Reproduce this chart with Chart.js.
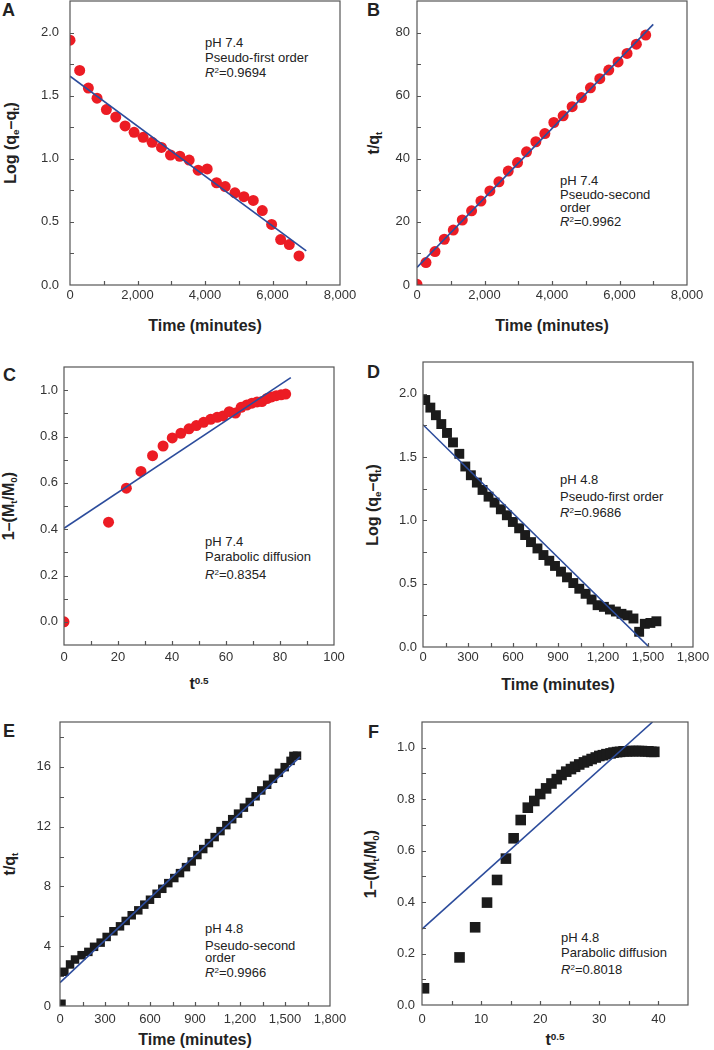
<!DOCTYPE html>
<html>
<head>
<meta charset="utf-8">
<script src="https://cdn.jsdelivr.net/npm/chart.js@4.4.0/dist/chart.umd.min.js"></script>
<style>
body { margin: 0; background: #fff; }
#page { position: relative; width: 714px; height: 1050px; overflow: hidden; font-family: "Liberation Sans", Arial, sans-serif; color: #222; }
canvas { position: absolute; }
.lt { position: absolute; font-weight: bold; font-size: 18px; transform: translateY(-50%); line-height: 1; }
.xt { position: absolute; font-weight: bold; font-size: 16px; white-space: nowrap; transform: translate(-50%, -50%); line-height: 1; }
.yt { position: absolute; font-weight: bold; font-size: 16px; white-space: nowrap; transform: translate(-50%, -50%) rotate(-90deg); line-height: 1; }
.an { position: absolute; font-size: 13px; white-space: nowrap; transform: translateY(-50%); line-height: 1; }
.sb { font-size: 0.62em; position: relative; top: 0.35em; }
.sp { font-size: 0.62em; position: relative; top: -0.5em; }
</style>
</head>
<body>
<div id="page">
  <div class="lt" style="left:2px;top:10px">A</div>
  <div class="lt" style="left:367px;top:10px">B</div>
  <div class="lt" style="left:3px;top:375px">C</div>
  <div class="lt" style="left:367px;top:372px">D</div>
  <div class="lt" style="left:3px;top:731px">E</div>
  <div class="lt" style="left:368px;top:732px">F</div>

  <div class="xt" style="left:205px;top:326px">Time (minutes)</div>
  <div class="xt" style="left:552px;top:326px">Time (minutes)</div>
  <div class="xt" style="left:199px;top:684px">t<span class="sp">0.5</span></div>
  <div class="xt" style="left:558px;top:685px">Time (minutes)</div>
  <div class="xt" style="left:195px;top:1040px">Time (minutes)</div>
  <div class="xt" style="left:555px;top:1040px">t<span class="sp">0.5</span></div>

  <div class="yt" style="left:11px;top:143px">Log (q<span class="sb">e</span>–q<span class="sb">t</span>)</div>
  <div class="yt" style="left:374px;top:143px">t/q<span class="sb">t</span></div>
  <div class="yt" style="left:9px;top:506px">1–(M<span class="sb">t</span>/M<span class="sb">0</span>)</div>
  <div class="yt" style="left:373px;top:505px">Log (q<span class="sb">e</span>–q<span class="sb">t</span>)</div>
  <div class="yt" style="left:10px;top:864px">t/q<span class="sb">t</span></div>
  <div class="yt" style="left:371px;top:864px">1–(M<span class="sb">t</span>/M<span class="sb">0</span>)</div>

  <div class="an" style="left:205px;top:42px">pH 7.4</div>
  <div class="an" style="left:205px;top:57px">Pseudo-first order</div>
  <div class="an" style="left:205px;top:73px"><i>R</i><span class="sp">2</span>=0.9694</div>

  <div class="an" style="left:560px;top:180px">pH 7.4</div>
  <div class="an" style="left:560px;top:194px">Pseudo-second</div>
  <div class="an" style="left:560px;top:207px">order</div>
  <div class="an" style="left:560px;top:222px"><i>R</i><span class="sp">2</span>=0.9962</div>

  <div class="an" style="left:205px;top:541px">pH 7.4</div>
  <div class="an" style="left:205px;top:556px">Parabolic diffusion</div>
  <div class="an" style="left:205px;top:575px"><i>R</i><span class="sp">2</span>=0.8354</div>

  <div class="an" style="left:560px;top:479px">pH 4.8</div>
  <div class="an" style="left:560px;top:496px">Pseudo-first order</div>
  <div class="an" style="left:560px;top:513px"><i>R</i><span class="sp">2</span>=0.9686</div>

  <div class="an" style="left:205px;top:928px">pH 4.8</div>
  <div class="an" style="left:205px;top:945px">Pseudo-second</div>
  <div class="an" style="left:205px;top:957px">order</div>
  <div class="an" style="left:205px;top:973px"><i>R</i><span class="sp">2</span>=0.9966</div>

  <div class="an" style="left:561px;top:937px">pH 4.8</div>
  <div class="an" style="left:561px;top:952px">Parabolic diffusion</div>
  <div class="an" style="left:561px;top:970px"><i>R</i><span class="sp">2</span>=0.8018</div>
</div>

<script>
// A: pH 7.4, pseudo-first order
const timeA = [0, 287, 544, 801, 1078, 1355, 1632, 1899, 2166, 2433, 2710, 2977, 3254, 3531, 3798, 4065, 4342, 4599, 4886, 5153, 5430, 5697, 5974, 6241, 6498, 6785];
const logA = [1.94, 1.70, 1.56, 1.48, 1.39, 1.33, 1.26, 1.21, 1.17, 1.13, 1.09, 1.03, 1.02, 0.99, 0.91, 0.92, 0.81, 0.78, 0.73, 0.70, 0.67, 0.59, 0.48, 0.36, 0.32, 0.23];
const fitA = [[0, 1.654], [7000, 0.271]];

// B: pH 7.4, pseudo-second order
const timeB = [0, 266, 533, 809, 1075, 1342, 1618, 1894, 2160, 2427, 2703, 2979, 3245, 3522, 3788, 4054, 4330, 4597, 4873, 5139, 5416, 5682, 5958, 6224, 6500, 6777];
const tqB = [0.2, 7.1, 10.6, 14.5, 17.4, 20.6, 23.5, 26.6, 29.8, 32.7, 36.1, 38.8, 42.2, 45.4, 48.0, 51.5, 53.6, 56.5, 59.4, 62.5, 65.4, 68.1, 70.7, 73.4, 76.3, 79.2];
const fitB = [[0, 5.6], [7000, 82.6]];

// C: pH 7.4, parabolic diffusion
const sqrtC = [0, 16.5, 23.1, 28.5, 32.8, 36.7, 40.1, 43.3, 46.3, 49.0, 51.7, 54.3, 56.7, 58.9, 61.2, 63.5, 65.6, 67.7, 69.6, 71.5, 73.3, 75.2, 76.9, 78.6, 80.4, 82.1];
const fracC = [0.00, 0.43, 0.577, 0.649, 0.717, 0.759, 0.794, 0.814, 0.833, 0.847, 0.861, 0.874, 0.883, 0.889, 0.907, 0.901, 0.926, 0.936, 0.944, 0.949, 0.951, 0.964, 0.971, 0.976, 0.980, 0.983];
const fitC = [[0, 0.404], [84, 1.054]];

// D: pH 4.8, pseudo-first order
const timeD = [15, 49, 86, 122, 160, 200, 242, 282, 319, 359, 397, 437, 477, 519, 559, 599, 641, 681, 720, 763, 803, 842, 880, 920, 960, 1002, 1042, 1084, 1124, 1164, 1206, 1246, 1286, 1323, 1363, 1403, 1441, 1479, 1516, 1556];
const logD = [1.95, 1.89, 1.83, 1.76, 1.69, 1.615, 1.525, 1.425, 1.356, 1.298, 1.24, 1.187, 1.14, 1.087, 1.04, 0.987, 0.937, 0.884, 0.828, 0.778, 0.726, 0.681, 0.64, 0.595, 0.55, 0.505, 0.46, 0.42, 0.375, 0.33, 0.317, 0.296, 0.28, 0.262, 0.25, 0.225, 0.12, 0.183, 0.19, 0.203];
const fitD = [[0, 1.755], [1507, 0]];

// E: pH 4.8, pseudo-second order
const timeE = [10, 29, 67, 100, 144, 189, 227, 271, 311, 356, 400, 438, 478, 522, 562, 600, 644, 682, 722, 762, 800, 840, 878, 916, 955, 993, 1031, 1070, 1109, 1148, 1187, 1226, 1265, 1304, 1342, 1381, 1420, 1459, 1498, 1537, 1556, 1580];
const tqE = [0.15, 2.29, 2.78, 3.11, 3.40, 3.62, 3.96, 4.24, 4.62, 5.00, 5.33, 5.69, 6.07, 6.40, 6.78, 7.11, 7.51, 7.84, 8.22, 8.56, 8.89, 9.29, 9.67, 10.1, 10.5, 10.9, 11.3, 11.7, 12.1, 12.5, 12.87, 13.27, 13.65, 14.03, 14.42, 14.8, 15.2, 15.6, 15.98, 16.4, 16.73, 16.75];
const fitE = [[0, 1.56], [1600, 16.67]];

// F: pH 4.8, parabolic diffusion
const sqrtF = [0.34, 6.35, 8.99, 11.0, 12.7, 14.2, 15.5, 16.7, 17.9, 19.0, 20.0, 21.0, 21.9, 22.8, 23.6, 24.4, 25.2, 25.9, 26.6, 27.4, 28.0, 28.7, 29.4, 30.0, 30.6, 31.2, 31.9, 32.4, 33.0, 33.5, 34.1, 34.7, 35.2, 35.7, 36.2, 36.7, 37.2, 37.8, 38.3, 38.8, 39.3];
const fracF = [0.065, 0.185, 0.302, 0.398, 0.486, 0.569, 0.648, 0.719, 0.767, 0.793, 0.820, 0.842, 0.861, 0.878, 0.894, 0.907, 0.917, 0.926, 0.935, 0.943, 0.949, 0.956, 0.962, 0.968, 0.971, 0.975, 0.978, 0.981, 0.983, 0.984, 0.986, 0.986, 0.987, 0.987, 0.987, 0.987, 0.987, 0.986, 0.986, 0.984, 0.984];
const fitF = [[0, 0.295], [39, 1.1]];

// tick values and labels
const timeTicksLong = [0, 2000, 4000, 6000, 8000];
const timeLabelsLong = ['0', '2,000', '4,000', '6,000', '8,000'];
const timeTicksShort = [0, 300, 600, 900, 1200, 1500, 1800];
const timeLabelsShort = ['0', '300', '600', '900', '1,200', '1,500', '1,800'];
const logTicks = [0, 0.5, 1.0, 1.5, 2.0];
const logLabels = ['0.0', '0.5', '1.0', '1.5', '2.0'];
const tqTicksB = [0, 20, 40, 60, 80];
const tqLabelsB = ['0', '20', '40', '60', '80'];
const tqTicksE = [0, 4, 8, 12, 16];
const tqLabelsE = ['0', '4', '8', '12', '16'];
const fracTicks = [0, 0.2, 0.4, 0.6, 0.8, 1.0];
const fracLabels = ['0.0', '0.2', '0.4', '0.6', '0.8', '1.0'];
const sqrtTicksC = [0, 20, 40, 60, 80, 100];
const sqrtLabelsC = ['0', '20', '40', '60', '80', '100'];
const sqrtTicksF = [0, 10, 20, 30, 40];
const sqrtLabelsF = ['0', '10', '20', '30', '40'];

const RED = '#ec1c24';
const BLUE = '#2c4c9c';
const BLACK = '#1b1b1b';
const FONT = { family: '"Liberation Sans", Arial, sans-serif', size: 13 };

// major ticks + midway minor ticks, drawn inward
function tickValues(scale) {
  const major = scale.ticks.map(t => t.value);
  const step = major[1] - major[0];
  const out = [major[0] - step / 2];
  major.forEach(v => { out.push(v, v + step / 2); });
  return out.filter(v => v > scale.min + 1e-9 && v < scale.max - 1e-9);
}

const frameTicks = {
  id: 'frameTicks',
  afterDraw(chart) {
    const { ctx, chartArea: a, scales: { x, y } } = chart;
    ctx.save();
    ctx.strokeStyle = '#555';
    ctx.lineWidth = 1.2;
    ctx.strokeRect(a.left, a.top, a.right - a.left, a.bottom - a.top);
    ctx.beginPath();
    tickValues(x).forEach(v => {
      const px = Math.round(x.getPixelForValue(v)) + 0.5;
      ctx.moveTo(px, a.bottom);
      ctx.lineTo(px, a.bottom - 4);
    });
    tickValues(y).forEach(v => {
      const py = Math.round(y.getPixelForValue(v)) + 0.5;
      ctx.moveTo(a.left, py);
      ctx.lineTo(a.left + 4, py);
    });
    ctx.stroke();
    ctx.restore();
  }
};

function pts(xs, ys) {
  return xs.map((v, i) => ({ x: v, y: ys[i] }));
}

function makePanel(p) {
  const [l, t, r, b] = p.box;
  const cv = document.createElement('canvas');
  cv.width = r - l + 100;
  cv.height = b - t + 60;
  cv.style.left = (l - 60) + 'px';
  cv.style.top = (t - 30) + 'px';
  document.getElementById('page').appendChild(cv);

  const marker = p.square
    ? { pointStyle: 'rect', pointRadius: p.size, pointBackgroundColor: BLACK }
    : { pointStyle: 'circle', pointRadius: p.size, pointBackgroundColor: RED };

  new Chart(cv, {
    type: 'scatter',
    data: {
      datasets: [
        {
          data: p.fit.map(d => ({ x: d[0], y: d[1] })),
          showLine: true, pointRadius: 0, borderColor: BLUE, borderWidth: 1.6
        },
        Object.assign({ data: pts(p.xs, p.ys), pointBorderWidth: 0, showLine: false }, marker)
      ]
    },
    options: {
      responsive: false,
      animation: false,
      events: [],
      layout: { padding: { left: 0, top: 30, right: 40, bottom: 0 } },
      plugins: { legend: { display: false }, tooltip: { enabled: false } },
      scales: {
        x: {
          type: 'linear', min: p.xr[0], max: p.xr[1], bounds: 'data',
          grid: { display: false, drawTicks: false }, border: { display: false },
          afterBuildTicks: s => { s.ticks = p.xTicks.map(v => ({ value: v })); },
          afterFit: s => { s.height = 30; },
          ticks: { font: FONT, color: '#333', padding: p.xPad, maxRotation: 0, autoSkip: false,
                   callback: (v, i) => p.xLabels[i] }
        },
        y: {
          type: 'linear', min: p.yr[0], max: p.yr[1], bounds: 'data',
          grid: { display: false, drawTicks: false }, border: { display: false },
          afterBuildTicks: s => { s.ticks = p.yTicks.map(v => ({ value: v })); },
          afterFit: s => { s.width = 60; },
          ticks: { font: FONT, color: '#333', padding: p.yPad, autoSkip: false,
                   callback: (v, i) => p.yLabels[i] }
        }
      }
    },
    plugins: [frameTicks]
  });
}

makePanel({ box: [70, 1, 340, 285], xr: [0, 8000], yr: [0, 2.25], xs: timeA, ys: logA, fit: fitA,
  xTicks: timeTicksLong, xLabels: timeLabelsLong, yTicks: logTicks, yLabels: logLabels,
  xPad: 3, yPad: 11, size: 5.5 });
makePanel({ box: [417, 1, 687, 285], xr: [0, 8000], yr: [0, 90], xs: timeB, ys: tqB, fit: fitB,
  xTicks: timeTicksLong, xLabels: timeLabelsLong, yTicks: tqTicksB, yLabels: tqLabelsB,
  xPad: 3, yPad: 7, size: 5.5 });
makePanel({ box: [64, 367, 334, 645], xr: [0, 100], yr: [-0.1, 1.1], xs: sqrtC, ys: fracC, fit: fitC,
  xTicks: sqrtTicksC, xLabels: sqrtLabelsC, yTicks: fracTicks, yLabels: fracLabels,
  xPad: 5, yPad: 6, size: 5.5 });
makePanel({ box: [423, 362, 693, 647], xr: [0, 1800], yr: [0, 2.25], xs: timeD, ys: logD, fit: fitD,
  xTicks: timeTicksShort, xLabels: timeLabelsShort, yTicks: logTicks, yLabels: logLabels,
  xPad: 3, yPad: 6, size: 7, square: true });
makePanel({ box: [60, 722, 330, 1006], xr: [0, 1800], yr: [0, 19], xs: timeE, ys: tqE, fit: fitE,
  xTicks: timeTicksShort, xLabels: timeLabelsShort, yTicks: tqTicksE, yLabels: tqLabelsE,
  xPad: 6, yPad: 9, size: 6, square: true });
makePanel({ box: [422, 722, 688, 1005], xr: [0, 45], yr: [0, 1.1], xs: sqrtF, ys: fracF, fit: fitF,
  xTicks: sqrtTicksF, xLabels: sqrtLabelsF, yTicks: fracTicks, yLabels: fracLabels,
  xPad: 7, yPad: 7, size: 7.5, square: true });
</script>
</body>
</html>
